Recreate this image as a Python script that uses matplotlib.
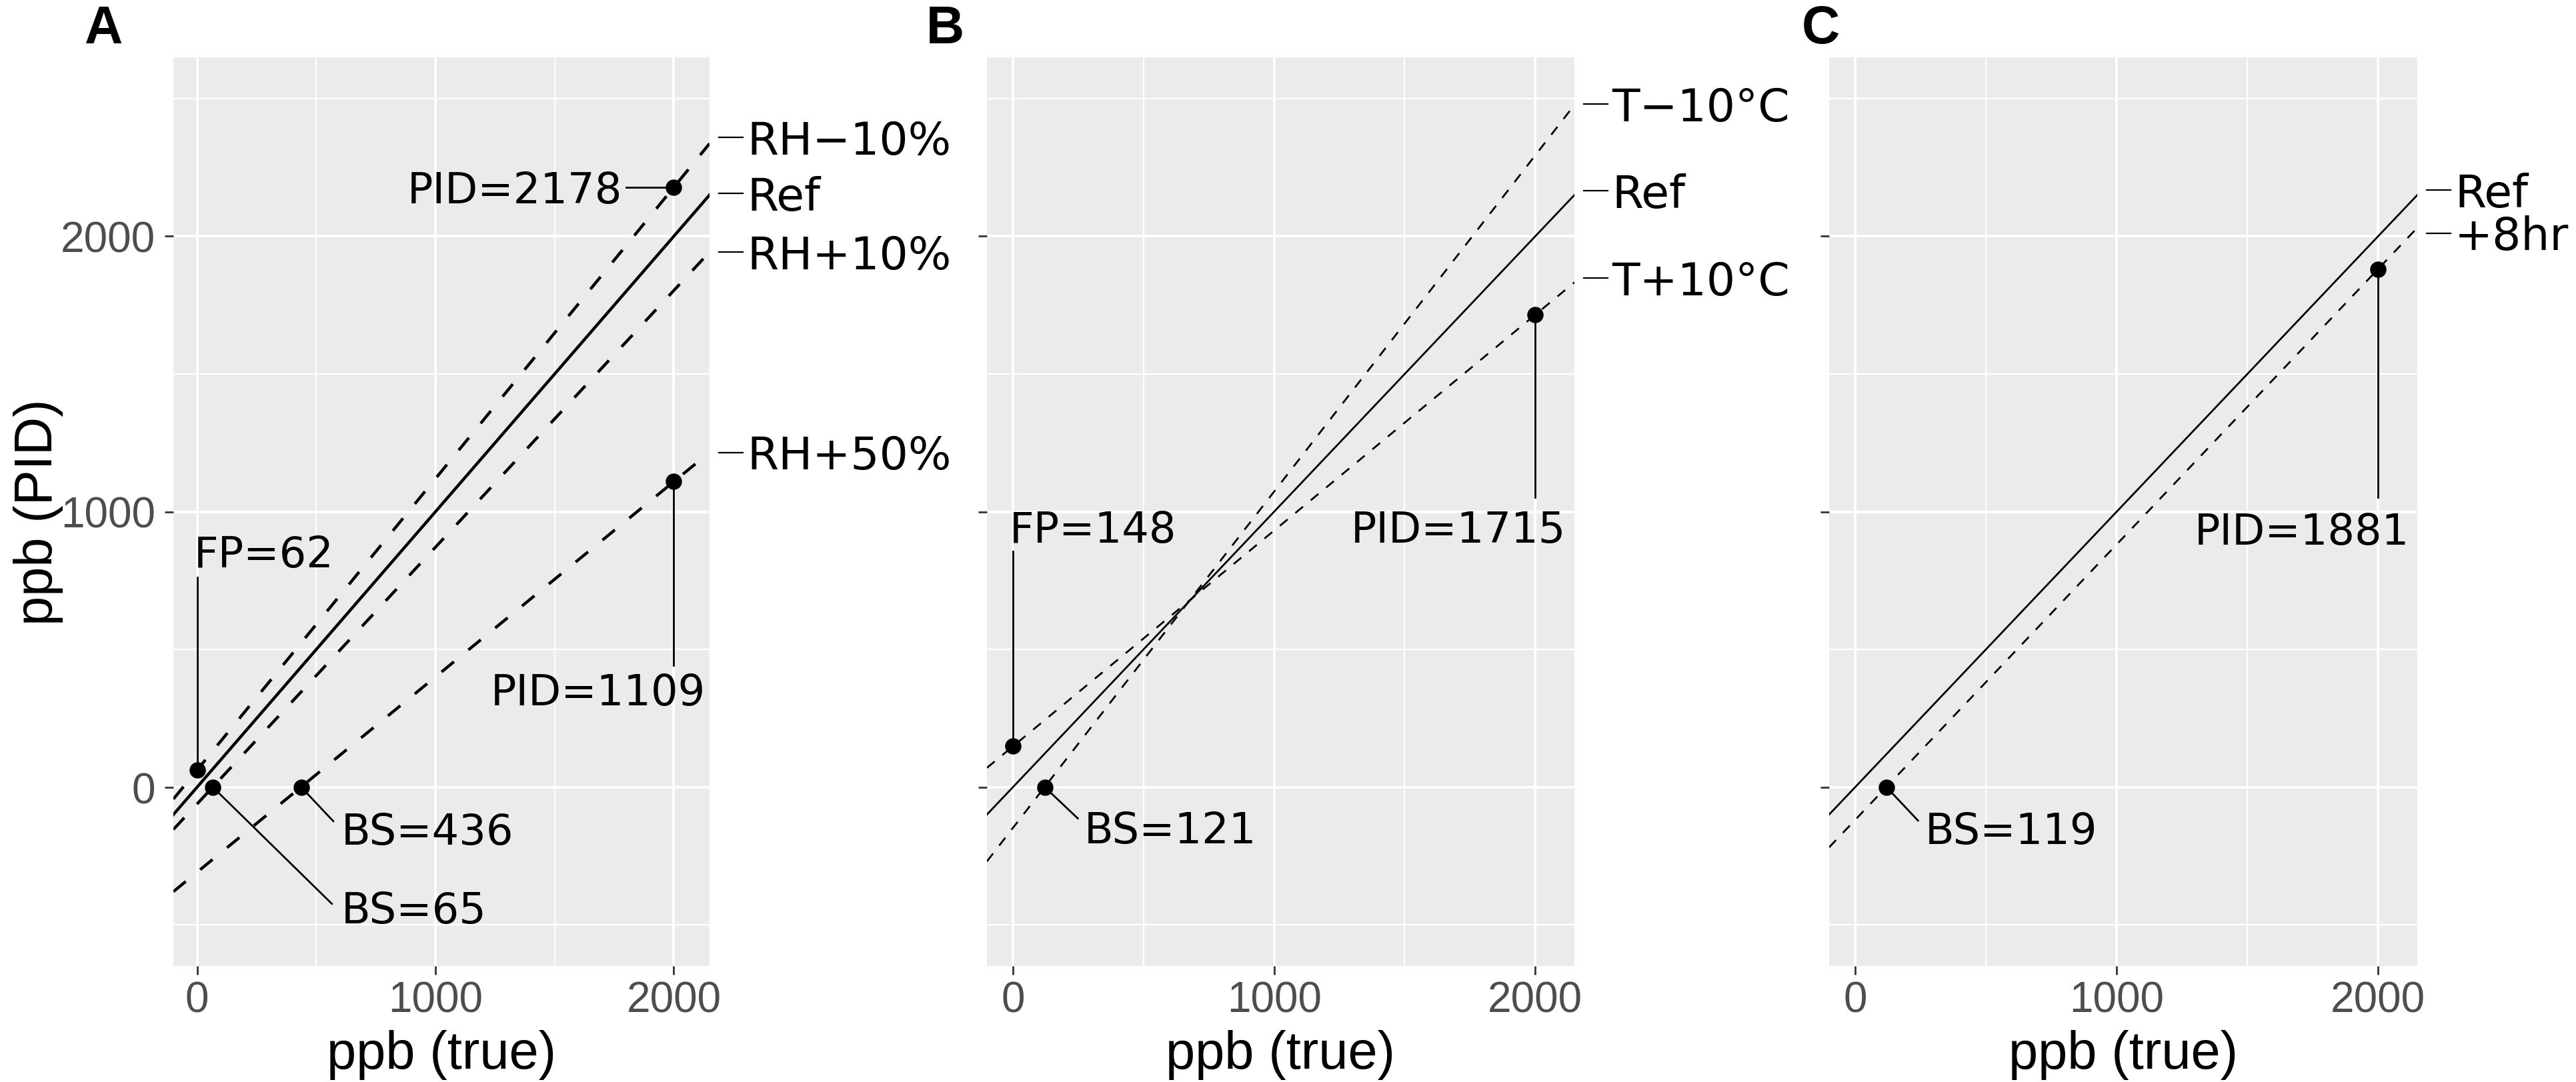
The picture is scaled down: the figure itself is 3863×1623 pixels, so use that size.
import matplotlib.pyplot as plt
from matplotlib.ticker import FixedLocator, MultipleLocator
from matplotlib.transforms import blended_transform_factory

plt.rcParams["font.family"] = ["Liberation Sans", "DejaVu Sans"]

# ── data ────────────────────────────────────────────────────────────────────
# panel A: relative humidity
a_names      = ["RH−10%", "Ref", "RH+10%", "RH+50%"]
a_slopes     = [1.058, 1.0, 0.932, 0.709]
a_intercepts = [62, 0, -61, -309]
a_dashed     = [True, False, True, True]
a_pt_x    = [0, 65, 436, 2000, 2000]
a_pt_y    = [62, 0, 0, 2178, 1109]
a_pt_text = ["FP=62", "BS=65", "BS=436", "PID=2178", "PID=1109"]

# panel B: temperature
b_names      = ["T−10°C", "Ref", "T+10°C"]
b_slopes     = [1.221, 1.0, 0.7835]
b_intercepts = [-148, 0, 148]
b_dashed     = [True, False, True]
b_pt_x    = [0, 121, 2000]
b_pt_y    = [148, 0, 1715]
b_pt_text = ["FP=148", "BS=121", "PID=1715"]

# panel C: time
c_names      = ["Ref", "+8hr"]
c_slopes     = [1.0, 1.0]
c_intercepts = [0, -119]
c_dashed     = [False, True]
c_pt_x    = [119, 2000]
c_pt_y    = [0, 1881]
c_pt_text = ["BS=119", "PID=1881"]

x_ticks = [0, 1000, 2000]
y_ticks = [0, 1000, 2000]

# ── label layout (text x, text baseline y, ha, leader end x, leader end y) ──
a_lab = [(-14, 800, "left", 0, 761), (604, -493, "left", 565, -424),
         (604, -206, "left", 571, -124), (1785, 2122, "right", 1800, 2178),
         (2134, 298, "right", 2000, 443)]
b_lab = [(-13, 889, "left", 0, 856), (272, -203, "left", 248, -114),
         (2117, 889, "right", 2000, 1052)]
c_lab = [(266, -204, "left", 240, -122), (2120, 882, "right", 2000, 1052)]
# small vertical nudges of the right-hand line labels (data units)
a_nudge = [22, 5, 0, 0]
b_nudge = [3, 15, 15]
c_nudge = [17, -19]

W, H, DPI = 3863, 1624, 200
fig = plt.figure(figsize=(W / DPI, H / DPI), dpi=DPI)

BG = "#EBEBEB"
ANN_FS = 23
LAB_FS = 24.5


def px(l, r, t=87, b=1450):
    return [l / W, 1 - b / H, (r - l) / W, (b - t) / H]


def panel(rect, names, slopes, intercepts, dashed, pt_x, pt_y, pt_text, lab,
          nudge, lw, dash, first=False):
    ax = fig.add_axes(rect)
    ax.set_facecolor(BG)
    for s in ax.spines.values():
        s.set_visible(False)
    ax.set_xlim(-100, 2150)
    ax.set_ylim(-650, 2650)
    ax.xaxis.set_major_locator(FixedLocator(x_ticks))
    ax.yaxis.set_major_locator(FixedLocator(y_ticks))
    ax.xaxis.set_minor_locator(MultipleLocator(500))
    ax.yaxis.set_minor_locator(MultipleLocator(500))
    ax.grid(which="minor", color="white", lw=0.8)
    ax.grid(which="major", color="white", lw=1.4)
    ax.set_axisbelow(True)
    ax.tick_params(which="major", length=4.7, width=1.0, color="#333333",
                   labelsize=23, labelcolor="#4D4D4D")
    ax.tick_params(axis="x", pad=3)
    ax.tick_params(axis="y", pad=5, labelleft=first)
    ax.tick_params(which="minor", length=0)

    for m, b, d in zip(slopes, intercepts, dashed):
        ls = (0, dash) if d else "-"
        ax.axline((0, b), slope=m, color="black", lw=lw, ls=ls, zorder=2)

    for (tx, ty, ha, ex, ey), x, y, t in zip(lab, pt_x, pt_y, pt_text):
        ax.plot([x, ex], [y, ey], color="black", lw=1.0, zorder=3)
        ax.text(tx, ty, t, ha=ha, va="baseline", fontsize=ANN_FS,
                family="DejaVu Sans", zorder=4)
    ax.plot(pt_x, pt_y, "o", color="black", ms=7.8, zorder=5)

    # line labels at the right edge
    w = rect[2] * W
    x_end = ax.get_xlim()[1]
    tr = blended_transform_factory(ax.transAxes, ax.transData)
    for n, m, b, dy in zip(names, slopes, intercepts, nudge):
        y = m * x_end + b + dy
        ax.plot([1 + 14 / w, 1 + 50 / w], [y, y], transform=tr, color="black",
                lw=0.8, clip_on=False)
        ax.annotate(n, xy=(1 + 56 / w, y), xycoords=tr,
                    xytext=(0, -0.729 * LAB_FS / 2), textcoords="offset points",
                    ha="left", va="baseline", fontsize=LAB_FS,
                    family="DejaVu Sans", annotation_clip=False)

    ax.set_xlabel("ppb (true)", fontsize=28.6, va="center")
    ax.xaxis.set_label_coords(0.5, (1450 - 1583) / 1363)
    return ax


ax_a = panel(px(260, 1064), a_names, a_slopes, a_intercepts, a_dashed,
             a_pt_x, a_pt_y, a_pt_text, a_lab, a_nudge, 1.6, (5.4, 6.3),
             first=True)
ax_a.set_ylabel("ppb (PID)", fontsize=28.6, va="center")
ax_a.yaxis.set_label_coords((58 - 260) / 804, 0.5)

ax_b = panel(px(1480, 2361), b_names, b_slopes, b_intercepts, b_dashed,
             b_pt_x, b_pt_y, b_pt_text, b_lab, b_nudge, 1.0, (5.4, 5.4))
ax_c = panel(px(2743, 3625), c_names, c_slopes, c_intercepts, c_dashed,
             c_pt_x, c_pt_y, c_pt_text, c_lab, c_nudge, 1.0, (5.4, 5.4))

for letter, xc in zip(["A", "B", "C"], [155, 1417, 2730]):
    fig.text(xc / W, 1 - 65 / H, letter, ha="center", va="baseline",
             fontsize=28.6, fontweight="bold")

fig.savefig("out.png", dpi=DPI)
